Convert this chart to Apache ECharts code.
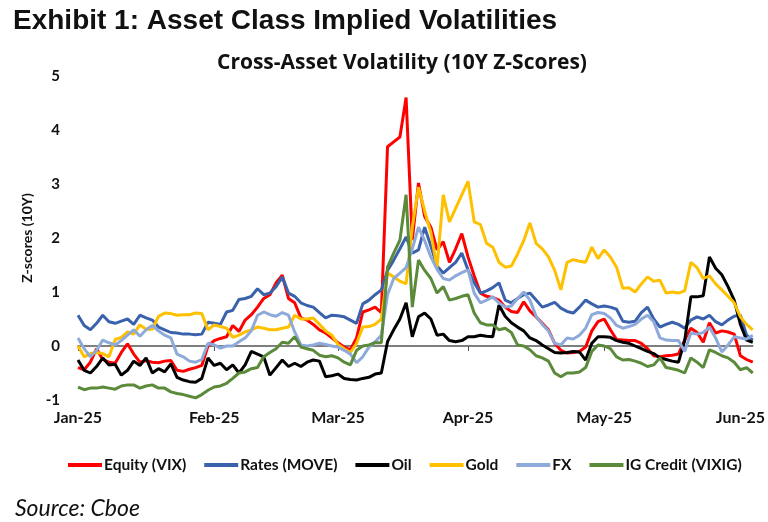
<!DOCTYPE html>
<html>
<head>
<meta charset="utf-8">
<script src="https://cdn.jsdelivr.net/npm/echarts@6/dist/echarts.min.js"></script>
<style>
html,body{margin:0;padding:0;background:#fff}
#chart{width:768px;height:522px}
</style>
</head>
<body>
<div id="chart"></div>
<script>
// month tick labels shown on the x axis
var monthLabels = ['Jan-25','Feb-25','Mar-25','Apr-25','May-25','Jun-25'];
var seriesNames = ['Equity (VIX)','Rates (MOVE)','Oil','Gold','FX','IG Credit (VIXIG)'];

// 10Y z-scores, one value per business day from 2 Jan 2025
var equity = [-0.40,-0.44,-0.30,-0.05,-0.25,-0.30,-0.32,-0.12,0.04,-0.15,
  -0.30,-0.27,-0.30,-0.31,-0.28,-0.27,-0.45,-0.47,-0.43,-0.40,
  -0.36,0.00,0.10,0.14,0.17,0.38,0.27,0.48,0.58,0.72,
  0.88,0.95,1.17,1.31,0.88,0.80,0.52,0.48,0.40,0.30,
  0.24,0.15,0.06,-0.02,-0.07,0.15,0.63,0.67,0.72,0.62,
  3.69,3.78,3.87,4.60,1.96,3.02,2.40,2.20,1.78,1.93,
  1.55,1.80,2.08,1.65,1.30,0.98,0.92,0.90,0.85,0.72,
  0.64,0.62,0.82,0.65,0.54,0.42,0.30,0.05,-0.08,-0.13,
  -0.12,-0.10,-0.02,0.28,0.45,0.50,0.30,0.12,0.11,0.10,
  0.10,0.05,-0.05,-0.18,-0.20,-0.18,-0.17,-0.15,0.11,0.33,
  0.25,0.07,0.43,0.24,0.28,0.26,0.22,-0.18,-0.25,-0.30];
var rates = [0.57,0.38,0.30,0.42,0.57,0.45,0.42,0.46,0.50,0.40,
  0.57,0.52,0.48,0.35,0.30,0.25,0.24,0.22,0.22,0.21,
  0.22,0.44,0.42,0.40,0.63,0.66,0.86,0.88,0.92,1.06,
  0.95,0.98,1.10,1.28,0.98,0.92,0.80,0.75,0.72,0.62,
  0.52,0.57,0.56,0.54,0.48,0.42,0.78,0.85,0.95,1.04,
  1.40,1.59,1.80,2.02,1.72,1.78,2.20,1.85,1.48,1.35,
  1.45,1.55,1.72,1.41,1.17,0.98,1.02,1.08,1.17,0.85,
  0.80,0.88,0.95,0.98,0.85,0.72,0.76,0.81,0.70,0.64,
  0.61,0.72,0.85,0.78,0.72,0.74,0.72,0.68,0.46,0.44,
  0.46,0.62,0.72,0.50,0.35,0.40,0.44,0.40,0.33,0.48,
  0.54,0.50,0.57,0.45,0.39,0.48,0.55,0.57,0.20,0.11];
var oil = [-0.26,-0.45,-0.50,-0.38,-0.22,-0.35,-0.34,-0.54,-0.45,-0.28,
  -0.36,-0.22,-0.50,-0.42,-0.48,-0.33,-0.58,-0.63,-0.66,-0.67,
  -0.60,-0.22,-0.36,-0.32,-0.44,-0.35,-0.50,-0.35,-0.10,-0.15,
  -0.20,-0.54,-0.40,-0.26,-0.38,-0.32,-0.38,-0.30,-0.26,-0.28,
  -0.57,-0.55,-0.52,-0.60,-0.62,-0.63,-0.60,-0.58,-0.52,-0.50,
  0.08,0.30,0.50,0.80,0.17,0.54,0.61,0.50,0.20,0.22,
  0.10,0.08,0.10,0.17,0.17,0.20,0.18,0.17,0.76,0.55,
  0.43,0.35,0.28,0.15,0.10,0.02,-0.05,-0.12,-0.13,-0.12,
  -0.10,-0.11,-0.26,0.05,0.17,0.17,0.16,0.10,0.07,0.05,
  0.00,-0.05,-0.10,-0.14,-0.22,-0.25,-0.28,-0.30,0.10,0.91,
  0.91,0.93,1.65,1.44,1.32,1.10,0.85,0.40,0.11,0.07];
var gold = [0.00,-0.20,-0.14,-0.12,-0.14,-0.20,0.12,0.16,0.26,0.22,
  0.39,0.31,0.31,0.55,0.61,0.60,0.57,0.58,0.58,0.61,
  0.60,0.30,0.39,0.36,0.33,0.16,0.20,0.26,0.30,0.35,
  0.33,0.30,0.30,0.33,0.35,0.57,0.50,0.50,0.52,0.40,
  0.28,0.20,0.03,-0.05,-0.12,0.05,0.35,0.36,0.40,0.50,
  1.35,1.28,1.20,1.15,2.20,2.94,2.50,2.10,1.45,2.80,
  2.30,2.55,2.80,3.05,2.30,2.25,1.90,1.83,1.55,1.46,
  1.48,1.70,1.95,2.28,1.90,1.80,1.65,1.40,1.04,1.55,
  1.60,1.57,1.55,1.83,1.62,1.78,1.65,1.46,1.07,1.08,
  1.00,1.15,1.28,1.20,1.22,0.98,1.00,0.98,1.02,1.55,
  1.45,1.25,1.30,1.15,1.04,0.92,0.80,0.54,0.40,0.30];
var fx = [0.15,-0.05,-0.20,-0.08,0.11,0.06,0.02,0.10,0.20,0.30,
  0.18,0.30,0.38,0.28,0.20,0.15,-0.15,-0.20,-0.28,-0.30,
  -0.25,0.05,0.02,-0.04,0.00,0.00,0.08,0.15,0.28,0.57,
  0.63,0.58,0.55,0.62,0.57,0.26,0.02,0.00,0.02,0.05,
  0.03,0.00,-0.02,-0.08,-0.15,-0.31,-0.20,-0.02,0.08,0.20,
  0.95,1.25,1.35,1.45,1.80,2.20,1.95,1.65,1.42,1.25,
  1.22,1.30,1.36,1.41,0.98,0.80,0.85,0.91,0.80,0.72,
  0.74,0.88,1.00,0.85,0.55,0.40,0.28,0.05,0.02,0.15,
  0.13,0.20,0.33,0.58,0.62,0.60,0.52,0.38,0.33,0.36,
  0.40,0.50,0.57,0.45,0.15,0.11,0.10,0.10,-0.10,0.24,
  0.22,0.25,0.35,0.15,-0.11,0.02,0.17,0.15,0.13,0.20];
var igCredit = [-0.76,-0.81,-0.78,-0.78,-0.76,-0.78,-0.80,-0.74,-0.72,-0.72,
  -0.78,-0.74,-0.72,-0.78,-0.78,-0.85,-0.88,-0.90,-0.93,-0.96,
  -0.90,-0.82,-0.76,-0.74,-0.69,-0.60,-0.50,-0.48,-0.42,-0.40,
  -0.20,-0.12,-0.05,0.07,0.05,0.17,-0.02,-0.05,-0.08,-0.17,
  -0.20,-0.18,-0.22,-0.30,-0.35,-0.08,0.00,0.02,0.06,0.06,
  1.46,1.72,1.96,2.80,0.72,1.59,1.40,1.25,0.98,1.10,
  0.85,0.88,0.92,0.95,0.61,0.43,0.39,0.39,0.30,0.33,
  0.25,0.02,0.00,-0.07,-0.18,-0.22,-0.28,-0.50,-0.57,-0.50,
  -0.50,-0.48,-0.40,-0.10,0.02,0.00,-0.05,-0.20,-0.26,-0.25,
  -0.28,-0.32,-0.38,-0.35,-0.22,-0.40,-0.42,-0.45,-0.50,-0.22,
  -0.30,-0.40,-0.07,-0.12,-0.18,-0.22,-0.30,-0.44,-0.40,-0.50];

var colors = ['#FF0000','#3A62AC','#000000','#FFC000','#8EAADB','#5A8A3A'];
var allData = [equity, rates, oil, gold, fx, igCredit];

// business-day categories
var dates = [];
var d = new Date(Date.UTC(2025, 0, 2));
while (dates.length < equity.length) {
  var wd = d.getUTCDay();
  if (wd !== 0 && wd !== 6) dates.push(d.toISOString().slice(0, 10));
  d.setUTCDate(d.getUTCDate() + 1);
}
function isMonthStart(i) {
  return i === 0 || dates[i].slice(5, 7) !== dates[i - 1].slice(5, 7);
}

var font = 'Lato, "Open Sans", sans-serif';
var chart = echarts.init(document.getElementById('chart'));

var series = seriesNames.map(function (name, k) {
  return {
    name: name,
    type: 'line',
    data: allData[k],
    xAxisIndex: 0,
    showSymbol: false,
    symbol: 'none',
    lineStyle: { width: 3, color: colors[k] },
    itemStyle: { color: colors[k] },
    z: 2 + k
  };
});

var option = {
  animation: false,
  backgroundColor: '#fff',
  title: [
    {
      text: 'Exhibit 1: Asset Class Implied Volatilities',
      left: 8, top: 2,
      textStyle: { fontFamily: '"Liberation Sans", Arial, sans-serif', fontWeight: 'bold', fontSize: 28, color: '#111' }
    },
    {
      text: 'Cross-Asset Volatility (10Y Z-Scores)',
      left: 397, top: 48, textAlign: 'center',
      textStyle: { fontFamily: '"Open Sans", sans-serif', fontWeight: 'bold', fontSize: 21, color: '#111' }
    },
    {
      text: 'Source: Cboe',
      left: 10, top: 492,
      textStyle: { fontFamily: font, fontStyle: 'italic', fontWeight: 'normal', fontSize: 23, color: '#111' }
    }
  ],
  legend: {
    data: seriesNames,
    left: 63, top: 452,
    width: 720,
    icon: 'rect',
    itemWidth: 34, itemHeight: 4,
    itemGap: 18,
    textStyle: { fontFamily: font, fontWeight: 'bold', fontSize: 15.5, color: '#111', padding: [0, 0, 0, -3] }
  },
  grid: { left: 78, right: 12, top: 76, bottom: 122, containLabel: false },
  xAxis: [
    {
      type: 'category',
      data: dates,
      boundaryGap: false,
      axisLine: { onZero: true, lineStyle: { color: '#555', width: 1.5 } },
      axisTick: { show: true, interval: function (i) { return isMonthStart(i); }, length: 5, lineStyle: { color: '#555' } },
      axisLabel: { show: false },
      splitLine: { show: false }
    },
    {
      type: 'category',
      data: dates,
      boundaryGap: false,
      position: 'bottom',
      axisLine: { show: false, onZero: false },
      axisTick: { show: false },
      axisLabel: {
        interval: function (i) { return isMonthStart(i); },
        formatter: function (v) { return monthLabels[parseInt(v.slice(5, 7), 10) - 1]; },
        margin: 10,
        fontFamily: font, fontWeight: 'bold', fontSize: 16, color: '#111'
      },
      splitLine: { show: false }
    }
  ],
  yAxis: {
    type: 'value',
    min: -1, max: 5, interval: 1,
    name: 'Z-scores (10Y)',
    nameLocation: 'middle',
    nameGap: 44,
    nameRotate: 90,
    nameTextStyle: { fontFamily: font, fontWeight: 'bold', fontSize: 14, color: '#111' },
    axisLine: { show: false },
    axisTick: { show: false },
    splitLine: { show: false },
    axisLabel: { margin: 18, fontFamily: font, fontWeight: 'bold', fontSize: 15, color: '#111' }
  },
  series: series
};

chart.setOption(option);
</script>
</body>
</html>
